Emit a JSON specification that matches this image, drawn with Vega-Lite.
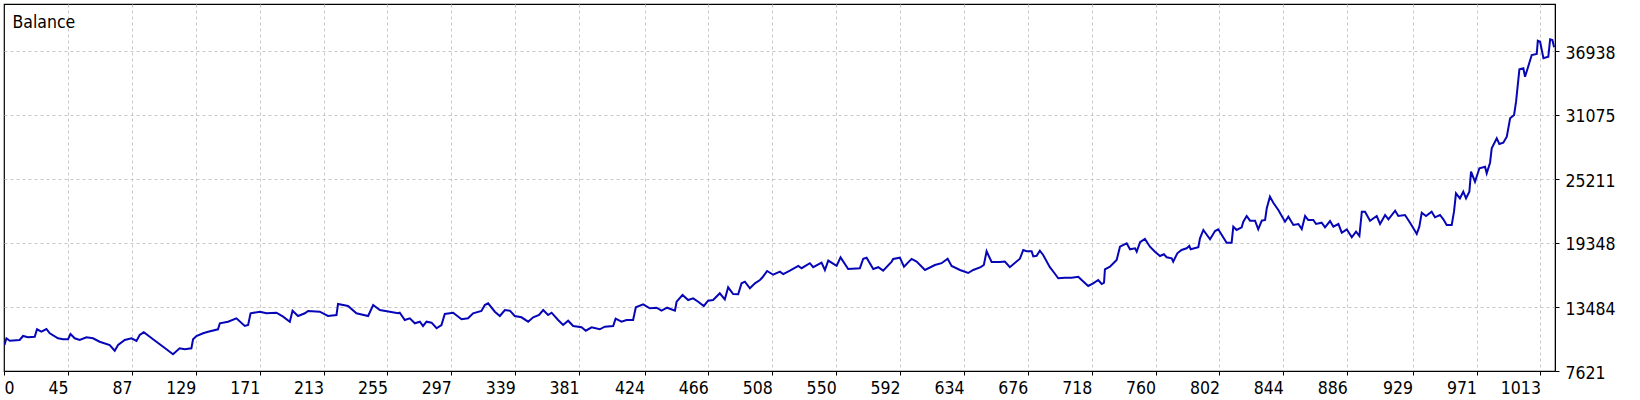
{
  "$schema": "https://vega.github.io/schema/vega-lite/v6.json",
  "description": "Balance curve, trades on x, balance on right y axis",
  "width": 1551,
  "height": 367,
  "autosize": {"type": "none"},
  "padding": {"left": 4, "top": 4, "right": 85, "bottom": 29},
  "background": "white",
  "title": {
    "text": "Balance",
    "anchor": "start",
    "frame": "group",
    "orient": "top",
    "offset": -41,
    "baseline": "alphabetic",
    "dx": 8.5,
    "fontSize": 17.5,
    "fontWeight": "normal",
    "color": "#000000"
  },
  "data": {
    "values": [
      {"trade": 3.2, "balance": 10003}, {"trade": 4.5, "balance": 10617}, {"trade": 6.7, "balance": 10397},
      {"trade": 13.2, "balance": 10461}, {"trade": 15.4, "balance": 10828}, {"trade": 18.7, "balance": 10708},
      {"trade": 23.1, "balance": 10763}, {"trade": 24.6, "balance": 11441}, {"trade": 27.5, "balance": 11222},
      {"trade": 30.8, "balance": 11469}, {"trade": 33.0, "balance": 11075}, {"trade": 38.4, "balance": 10617},
      {"trade": 41.7, "balance": 10525}, {"trade": 45.0, "balance": 10525}, {"trade": 46.6, "balance": 11011},
      {"trade": 49.4, "balance": 10617}, {"trade": 52.7, "balance": 10461}, {"trade": 57.1, "balance": 10708},
      {"trade": 61.4, "balance": 10617}, {"trade": 65.8, "balance": 10305}, {"trade": 72.4, "balance": 10003},
      {"trade": 75.7, "balance": 9481}, {"trade": 77.9, "balance": 10003}, {"trade": 82.3, "balance": 10461},
      {"trade": 86.7, "balance": 10617}, {"trade": 90.0, "balance": 10369}, {"trade": 92.1, "balance": 10919},
      {"trade": 94.8, "balance": 11167}, {"trade": 100.9, "balance": 10525}, {"trade": 105.3, "balance": 10067},
      {"trade": 109.7, "balance": 9609}, {"trade": 114.0, "balance": 9151}, {"trade": 118.4, "balance": 9701},
      {"trade": 121.7, "balance": 9609}, {"trade": 126.1, "balance": 9701}, {"trade": 127.2, "balance": 10525},
      {"trade": 129.4, "balance": 10828}, {"trade": 133.8, "balance": 11075}, {"trade": 137.1, "balance": 11222},
      {"trade": 143.6, "balance": 11441}, {"trade": 144.8, "balance": 11991}, {"trade": 150.2, "balance": 12138},
      {"trade": 155.7, "balance": 12449}, {"trade": 161.2, "balance": 11744}, {"trade": 163.4, "balance": 11835},
      {"trade": 165.0, "balance": 12907}, {"trade": 171.1, "balance": 13054}, {"trade": 175.5, "balance": 12907},
      {"trade": 182.0, "balance": 12962}, {"trade": 186.4, "balance": 12596}, {"trade": 190.8, "balance": 12138},
      {"trade": 192.6, "balance": 13146}, {"trade": 196.2, "balance": 12660}, {"trade": 200.7, "balance": 12907},
      {"trade": 202.8, "balance": 13118}, {"trade": 210.5, "balance": 13054}, {"trade": 215.9, "balance": 12660},
      {"trade": 221.5, "balance": 12751}, {"trade": 222.5, "balance": 13759}, {"trade": 229.1, "balance": 13576},
      {"trade": 234.6, "balance": 12907}, {"trade": 242.3, "balance": 12660}, {"trade": 245.6, "balance": 13668},
      {"trade": 250.0, "balance": 13210}, {"trade": 256.5, "balance": 13054}, {"trade": 262.0, "balance": 12907},
      {"trade": 263.1, "balance": 12962}, {"trade": 266.4, "balance": 12293}, {"trade": 269.7, "balance": 12449},
      {"trade": 273.0, "balance": 11991}, {"trade": 276.3, "balance": 12138}, {"trade": 278.4, "balance": 11744},
      {"trade": 280.7, "balance": 12138}, {"trade": 284.0, "balance": 12049}, {"trade": 287.3, "balance": 11536},
      {"trade": 290.5, "balance": 11835}, {"trade": 292.7, "balance": 12843}, {"trade": 298.2, "balance": 12962},
      {"trade": 303.7, "balance": 12358}, {"trade": 308.0, "balance": 12449}, {"trade": 311.3, "balance": 12907},
      {"trade": 316.8, "balance": 13118}, {"trade": 319.0, "balance": 13668}, {"trade": 321.2, "balance": 13823},
      {"trade": 325.6, "balance": 13054}, {"trade": 328.9, "balance": 12660}, {"trade": 332.2, "balance": 13210},
      {"trade": 335.5, "balance": 13146}, {"trade": 338.7, "balance": 12660}, {"trade": 343.1, "balance": 12541},
      {"trade": 347.5, "balance": 12138}, {"trade": 350.8, "balance": 12541}, {"trade": 354.7, "balance": 12751},
      {"trade": 357.4, "balance": 13210}, {"trade": 360.6, "balance": 12751}, {"trade": 362.9, "balance": 12962},
      {"trade": 367.2, "balance": 12293}, {"trade": 370.5, "balance": 11835}, {"trade": 373.8, "balance": 12229},
      {"trade": 377.1, "balance": 11744}, {"trade": 382.6, "balance": 11626}, {"trade": 385.4, "balance": 11314},
      {"trade": 389.2, "balance": 11626}, {"trade": 394.6, "balance": 11441}, {"trade": 397.9, "balance": 11680},
      {"trade": 403.4, "balance": 11744}, {"trade": 405.0, "balance": 12412}, {"trade": 408.9, "balance": 12138},
      {"trade": 412.2, "balance": 12293}, {"trade": 416.5, "balance": 12293}, {"trade": 418.3, "balance": 13457},
      {"trade": 423.1, "balance": 13732}, {"trade": 427.5, "balance": 13365}, {"trade": 431.9, "balance": 13420},
      {"trade": 435.2, "balance": 13146}, {"trade": 438.9, "balance": 13420}, {"trade": 444.0, "balance": 13146},
      {"trade": 445.1, "balance": 13970}, {"trade": 449.0, "balance": 14584}, {"trade": 452.7, "balance": 14126},
      {"trade": 456.0, "balance": 14281}, {"trade": 459.3, "balance": 13970}, {"trade": 463.0, "balance": 13576},
      {"trade": 465.8, "balance": 14062}, {"trade": 469.1, "balance": 14126}, {"trade": 473.5, "balance": 14740},
      {"trade": 476.8, "balance": 14190}, {"trade": 479.0, "balance": 15289}, {"trade": 482.3, "balance": 14675},
      {"trade": 485.6, "balance": 14648}, {"trade": 487.8, "balance": 15656}, {"trade": 490.0, "balance": 15802},
      {"trade": 493.3, "balance": 15197}, {"trade": 496.6, "balance": 15656}, {"trade": 499.9, "balance": 15958},
      {"trade": 501.6, "balance": 16205}, {"trade": 504.6, "balance": 16783}, {"trade": 508.6, "balance": 16440},
      {"trade": 513.0, "balance": 16718}, {"trade": 515.2, "balance": 16504}, {"trade": 519.6, "balance": 16819},
      {"trade": 525.1, "balance": 17250}, {"trade": 527.3, "balance": 17039}, {"trade": 532.7, "balance": 17497},
      {"trade": 534.9, "balance": 17131}, {"trade": 540.4, "balance": 17552}, {"trade": 542.6, "balance": 16874},
      {"trade": 544.8, "balance": 17735}, {"trade": 550.3, "balance": 17250}, {"trade": 552.9, "balance": 18030},
      {"trade": 557.9, "balance": 16966}, {"trade": 565.6, "balance": 17039}, {"trade": 567.8, "balance": 17909},
      {"trade": 570.0, "balance": 18001}, {"trade": 574.4, "balance": 16966}, {"trade": 577.7, "balance": 17131},
      {"trade": 580.9, "balance": 16819}, {"trade": 586.5, "balance": 17644}, {"trade": 587.5, "balance": 17891},
      {"trade": 591.9, "balance": 18001}, {"trade": 594.6, "balance": 17180}, {"trade": 599.6, "balance": 17891},
      {"trade": 602.9, "balance": 17644}, {"trade": 608.4, "balance": 16874}, {"trade": 614.9, "balance": 17332},
      {"trade": 619.3, "balance": 17497}, {"trade": 623.3, "balance": 17909}, {"trade": 625.9, "balance": 17250},
      {"trade": 631.4, "balance": 16874}, {"trade": 636.8, "balance": 16599}, {"trade": 640.1, "balance": 16874},
      {"trade": 645.0, "balance": 17131}, {"trade": 647.1, "balance": 17332}, {"trade": 648.9, "balance": 18588},
      {"trade": 652.2, "balance": 17607}, {"trade": 657.7, "balance": 17607}, {"trade": 660.9, "balance": 17644},
      {"trade": 664.2, "balance": 17131}, {"trade": 668.6, "balance": 17644}, {"trade": 670.8, "balance": 17909},
      {"trade": 673.0, "balance": 18707}, {"trade": 675.2, "balance": 18588}, {"trade": 678.5, "balance": 18588},
      {"trade": 679.6, "balance": 18120}, {"trade": 681.8, "balance": 18175}, {"trade": 683.9, "balance": 18642},
      {"trade": 686.1, "balance": 18248}, {"trade": 690.5, "balance": 17131}, {"trade": 693.2, "balance": 16645},
      {"trade": 696.0, "balance": 16114}, {"trade": 700.4, "balance": 16169}, {"trade": 704.8, "balance": 16169},
      {"trade": 709.2, "balance": 16260}, {"trade": 711.4, "balance": 15958}, {"trade": 715.7, "balance": 15408},
      {"trade": 719.0, "balance": 15656}, {"trade": 722.3, "balance": 15958}, {"trade": 724.6, "balance": 15592},
      {"trade": 726.1, "balance": 15711}, {"trade": 726.7, "balance": 16938}, {"trade": 730.0, "balance": 17177},
      {"trade": 734.4, "balance": 17790}, {"trade": 736.6, "balance": 19009}, {"trade": 741.0, "balance": 19320},
      {"trade": 743.2, "balance": 18771}, {"trade": 746.5, "balance": 18862}, {"trade": 747.6, "balance": 18551},
      {"trade": 749.8, "balance": 19420}, {"trade": 753.0, "balance": 19714}, {"trade": 756.3, "balance": 19009},
      {"trade": 759.6, "balance": 18551}, {"trade": 762.9, "balance": 18156}, {"trade": 765.5, "balance": 18313},
      {"trade": 767.3, "balance": 18038}, {"trade": 770.6, "balance": 17946}, {"trade": 771.6, "balance": 17635},
      {"trade": 774.3, "balance": 18404}, {"trade": 777.1, "balance": 18707}, {"trade": 780.4, "balance": 18862},
      {"trade": 782.2, "balance": 19073}, {"trade": 783.1, "balance": 18771}, {"trade": 788.1, "balance": 18954},
      {"trade": 789.2, "balance": 19779}, {"trade": 791.4, "balance": 20539}, {"trade": 795.8, "balance": 19687},
      {"trade": 799.1, "balance": 20447}, {"trade": 801.2, "balance": 20603}, {"trade": 806.7, "balance": 19375},
      {"trade": 810.0, "balance": 19375}, {"trade": 811.1, "balance": 20841}, {"trade": 813.3, "balance": 20539},
      {"trade": 816.6, "balance": 20786}, {"trade": 817.7, "balance": 21299}, {"trade": 819.9, "balance": 21821},
      {"trade": 822.1, "balance": 21391}, {"trade": 825.4, "balance": 21391}, {"trade": 827.5, "balance": 20603},
      {"trade": 829.8, "balance": 21391}, {"trade": 832.0, "balance": 21455}, {"trade": 833.1, "balance": 22527},
      {"trade": 835.2, "balance": 23590}, {"trade": 837.4, "balance": 23040}, {"trade": 840.7, "balance": 22371},
      {"trade": 845.1, "balance": 21299}, {"trade": 847.3, "balance": 21757}, {"trade": 850.6, "balance": 20997},
      {"trade": 853.9, "balance": 21089}, {"trade": 856.1, "balance": 20630}, {"trade": 858.3, "balance": 21821},
      {"trade": 860.4, "balance": 21455}, {"trade": 863.7, "balance": 21455}, {"trade": 865.5, "balance": 21089},
      {"trade": 869.2, "balance": 21208}, {"trade": 871.4, "balance": 20786}, {"trade": 874.7, "balance": 21363},
      {"trade": 876.9, "balance": 20841}, {"trade": 880.2, "balance": 21089}, {"trade": 882.4, "balance": 20291},
      {"trade": 885.7, "balance": 20603}, {"trade": 889.0, "balance": 19870}, {"trade": 891.8, "balance": 20383},
      {"trade": 894.0, "balance": 19989}, {"trade": 895.6, "balance": 22215}, {"trade": 897.7, "balance": 22215},
      {"trade": 901.0, "balance": 21391}, {"trade": 905.4, "balance": 21821}, {"trade": 907.6, "balance": 21089},
      {"trade": 910.9, "balance": 21913}, {"trade": 913.1, "balance": 21519}, {"trade": 917.5, "balance": 22307},
      {"trade": 919.6, "balance": 21821}, {"trade": 924.0, "balance": 21913}, {"trade": 927.3, "balance": 21208},
      {"trade": 929.5, "balance": 20694}, {"trade": 931.7, "balance": 20172}, {"trade": 933.4, "balance": 20841},
      {"trade": 935.0, "balance": 22124}, {"trade": 937.8, "balance": 21821}, {"trade": 941.5, "balance": 22215},
      {"trade": 943.7, "balance": 21702}, {"trade": 947.0, "balance": 21913}, {"trade": 949.2, "balance": 21519},
      {"trade": 951.4, "balance": 20997}, {"trade": 954.7, "balance": 20997}, {"trade": 956.2, "balance": 22215},
      {"trade": 957.5, "balance": 23901}, {"trade": 960.1, "balance": 23443}, {"trade": 962.3, "balance": 24048},
      {"trade": 964.1, "balance": 23443}, {"trade": 966.3, "balance": 24048}, {"trade": 967.4, "balance": 25880},
      {"trade": 970.0, "balance": 24964}, {"trade": 972.9, "balance": 26192}, {"trade": 976.6, "balance": 26338},
      {"trade": 977.7, "balance": 25733}, {"trade": 979.9, "balance": 26705}, {"trade": 981.0, "balance": 28024},
      {"trade": 984.3, "balance": 28940}, {"trade": 986.0, "balance": 28418}, {"trade": 988.6, "balance": 28537},
      {"trade": 990.9, "balance": 29087}, {"trade": 993.1, "balance": 30772}, {"trade": 995.7, "balance": 31075},
      {"trade": 997.0, "balance": 32293}, {"trade": 997.9, "balance": 33521}, {"trade": 999.2, "balance": 35262},
      {"trade": 1001.8, "balance": 35353}, {"trade": 1002.9, "balance": 34584}, {"trade": 1005.1, "balance": 35564},
      {"trade": 1007.3, "balance": 36572}, {"trade": 1010.6, "balance": 36663}, {"trade": 1011.3, "balance": 37882},
      {"trade": 1012.8, "balance": 37790}, {"trade": 1015.0, "balance": 36269}, {"trade": 1018.2, "balance": 36416},
      {"trade": 1019.4, "balance": 38010}, {"trade": 1020.9, "balance": 37946}, {"trade": 1022.0, "balance": 37277}
    ]
  },
  "mark": {"type": "line", "color": "#0606b6", "strokeWidth": 2, "clip": true},
  "encoding": {
    "x": {
      "field": "trade",
      "type": "quantitative",
      "scale": {"domain": [2.9, 1022.6], "nice": false, "zero": false},
      "axis": {
        "title": null,
        "values": [2.9, 45, 87, 129, 171, 213, 255, 297, 339, 381, 424, 466, 508, 550, 592, 634, 676, 718, 760, 802, 844, 886, 929, 971, 1013],
        "format": "d",
        "labelExpr": "datum.value < 10 ? '0' : datum.label",
        "labelAlign": {"condition": {"test": "datum.value < 10", "value": "left"}, "value": "right"},
        "gridOpacity": {"condition": {"test": "datum.value < 10", "value": 0}, "value": 1},
        "labelBaseline": "top",
        "labelPadding": 4,
        "labelFlush": false,
        "labelOverlap": false,
        "tickSize": 4
      }
    },
    "y": {
      "field": "balance",
      "type": "quantitative",
      "scale": {"domain": [7621, 41244], "nice": false, "zero": false},
      "axis": {
        "title": null,
        "orient": "right",
        "values": [7621, 13484, 19348, 25211, 31075, 36938],
        "format": "d",
        "labelAlign": "left",
        "labelBaseline": "middle",
        "labelOffset": 2,
        "labelPadding": 6,
        "labelFlush": false,
        "labelOverlap": false,
        "tickSize": 4
      }
    }
  },
  "config": {
    "font": "DejaVu Sans Condensed, Liberation Sans",
    "view": {"stroke": "#000000", "strokeWidth": 1.2},
    "axis": {
      "domainColor": "#000000",
      "domainWidth": 1,
      "tickColor": "#000000",
      "labelColor": "#000000",
      "labelFontSize": 17.5,
      "grid": true,
      "gridColor": "#c8c8c8",
      "gridDash": [3, 3],
      "gridWidth": 1
    }
  }
}
